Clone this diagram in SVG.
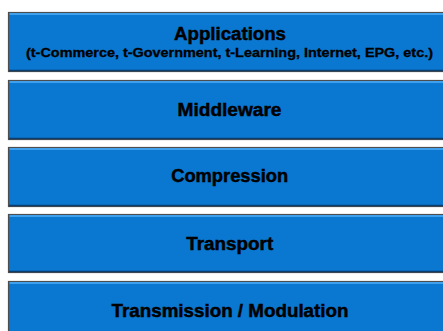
<svg xmlns="http://www.w3.org/2000/svg" width="443" height="331" viewBox="0 0 443 331">
  <style>
    .box { fill: #0a77d0; stroke: #4d4d4d; stroke-width: 1.2; }
    .hi { stroke: #3fa0ee; stroke-width: 2; fill: none; }
    .sh { stroke: #0a3e6e; stroke-width: 1.5; fill: none; }
    .t { font-family: "Liberation Sans", Arial, sans-serif; font-weight: bold; fill: #000; stroke: #000; text-anchor: middle; }
    .big { font-size: 18px; stroke-width: 0.45; }
    .small { font-size: 12.5px; stroke-width: 0.3; }
  </style>
  <rect width="443" height="331" fill="#ffffff"/>
  <g id="applications">
    <rect class="box" x="8.5" y="12.5" width="450" height="59"/>
    <line class="hi" x1="9.5" y1="14" x2="443" y2="14"/>
    <line class="sh" x1="9" y1="70.5" x2="443" y2="70.5"/>
    <text class="t big" x="230" y="40.3" textLength="112" lengthAdjust="spacingAndGlyphs">Applications</text>
    <text class="t small" x="229.5" y="56.8" textLength="407" lengthAdjust="spacingAndGlyphs">(t-Commerce, t-Government, t-Learning, Internet, EPG, etc.)</text>
  </g>
  <g id="middleware">
    <rect class="box" x="8.5" y="80.5" width="450" height="59"/>
    <line class="hi" x1="9.5" y1="82" x2="443" y2="82"/>
    <line class="sh" x1="9" y1="138.5" x2="443" y2="138.5"/>
    <text class="t big" x="229.5" y="116" textLength="104" lengthAdjust="spacingAndGlyphs">Middleware</text>
  </g>
  <g id="compression">
    <rect class="box" x="8.5" y="147.5" width="450" height="59"/>
    <line class="hi" x1="9.5" y1="149" x2="443" y2="149"/>
    <line class="sh" x1="9" y1="205.5" x2="443" y2="205.5"/>
    <text class="t big" x="229.7" y="182" textLength="117" lengthAdjust="spacingAndGlyphs">Compression</text>
  </g>
  <g id="transport">
    <rect class="box" x="8.5" y="214.5" width="450" height="58"/>
    <line class="hi" x1="9.5" y1="216" x2="443" y2="216"/>
    <line class="sh" x1="9" y1="271.5" x2="443" y2="271.5"/>
    <text class="t big" x="229.7" y="249.5" textLength="87" lengthAdjust="spacingAndGlyphs">Transport</text>
  </g>
  <g id="transmission">
    <rect class="box" x="8.5" y="281.5" width="450" height="59"/>
    <line class="hi" x1="9.5" y1="283" x2="443" y2="283"/>
    <text class="t big" x="230" y="317" textLength="237" lengthAdjust="spacingAndGlyphs">Transmission / Modulation</text>
  </g>
  <g id="connectors"/>
</svg>
